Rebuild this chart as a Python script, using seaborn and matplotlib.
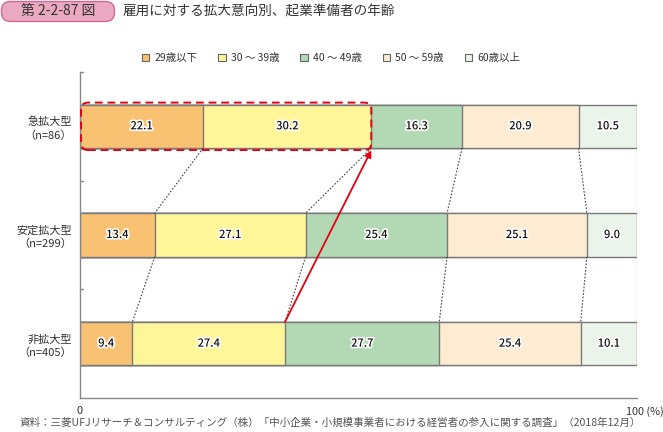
import numpy as np
import pandas as pd
import matplotlib
matplotlib.use("Agg")
import matplotlib.pyplot as plt
import matplotlib.patheffects as pe
from matplotlib.patches import Patch, FancyBboxPatch
from matplotlib.transforms import IdentityTransform
import seaborn as sns

categories = ["急拡大型\n（n=86）", "安定拡大型\n（n=299）", "非拡大型\n（n=405）"]
series_names = ["29歳以下", "30 ～ 39歳", "40 ～ 49歳", "50 ～ 59歳", "60歳以上"]
v_29 = [22.1, 13.4, 9.4]
v_30 = [30.2, 27.1, 27.4]
v_40 = [16.3, 25.4, 27.7]
v_50 = [20.9, 25.1, 25.4]
v_60 = [10.5, 9.0, 10.1]
colors = ["#F9C273", "#FFF69A", "#B2D9B4", "#FDEBD2", "#EAF4EA"]

title = "雇用に対する拡大意向別、起業準備者の年齢"
fig_label = "第 2-2-87 図"
source = "資料：三菱UFJリサーチ＆コンサルティング（株）「中小企業・小規模事業者における経営者の参入に関する調査」（2018年12月）"

sns.set_style("white")
plt.rcParams['font.family'] = ['Noto Sans CJK JP', 'DejaVu Sans']

vals = np.array([v_29, v_30, v_40, v_50, v_60])
cum = np.cumsum(vals, axis=0)
df = pd.DataFrame({"cat": categories})
for i, n in enumerate(series_names):
    df[n] = cum[i]

DPI = 100
fig = plt.figure(figsize=(6.63, 4.32), dpi=DPI)
ax = fig.add_axes([80/663, 34/432, 557/663, 326/432])

H = 0.4
for i in range(len(series_names) - 1, -1, -1):
    sns.barplot(data=df, y="cat", x=series_names[i], color=colors[i], orient="y",
                width=H, edgecolor="#7a7a7a", linewidth=1.0, ax=ax, saturation=1)

ax.set_xlim(0, 100)
ax.set_ylim(2.5, -0.5)
ax.set_xlabel("")
ax.set_ylabel("")
for s in ["top", "right"]:
    ax.spines[s].set_visible(False)
for s in ["left", "bottom"]:
    ax.spines[s].set_color("#888888")
    ax.spines[s].set_linewidth(1.0)

ax.set_xticks([0, 100])
ax.set_xticklabels(["0", ""], fontsize=8, color="#333333")
ax.tick_params(axis="x", direction="in", length=4, color="#888888", pad=6)
ax.set_yticks([0, 1, 2])
ax.set_yticklabels(categories, fontsize=8, color="#333333", ha="right", linespacing=1.3)
ax.tick_params(axis="y", length=0, pad=6)
for yb in [-0.5, 0.5, 1.5]:
    ax.plot([0, 0.6], [yb, yb], color="#888888", lw=1.0, clip_on=False)
ax.annotate("100 (%)", xy=(1, 0), xycoords="axes fraction", xytext=(-8, -6),
            textcoords="offset points", fontsize=7.8, color="#333333", va="top", ha="left")

# value labels
for r in range(3):
    for i in range(5):
        left = cum[i, r] - vals[i, r]
        ax.text(left + vals[i, r] / 2, r, f"{vals[i, r]:.1f}", ha="center", va="center",
                fontsize=8, color="#111111", fontweight="medium",
                path_effects=[pe.withStroke(linewidth=2.4, foreground="white")])

# dotted connectors
for r in range(2):
    for i in range(5):
        ax.plot([cum[i, r], cum[i, r + 1]], [r + H / 2, r + 1 - H / 2],
                ls=(0, (1.5, 1.5)), color="#444444", lw=0.8, zorder=1)

# red arrow
ax.annotate("", xy=(cum[1, 0], H / 2 + 0.02), xytext=(cum[1, 2], 2 - H / 2),
            arrowprops=dict(arrowstyle="-|>", color="#E60012", lw=1.3,
                            mutation_scale=10, shrinkA=0, shrinkB=0), zorder=5)

# red dashed rounded box
fig.canvas.draw()
p0 = ax.transData.transform((0, -H / 2))
p1 = ax.transData.transform((cum[1, 0], H / 2))
x0, x1 = p0[0] + 1, p1[0]
y0, y1 = min(p0[1], p1[1]) - 2, max(p0[1], p1[1]) + 2
box = FancyBboxPatch((x0, y0), x1 - x0, y1 - y0,
                     boxstyle="round,pad=0,rounding_size=7",
                     transform=IdentityTransform(), fill=False,
                     edgecolor="#E60012", lw=1.4, ls=(0, (4, 2.5)), zorder=6)
fig.patches.append(box)

# legend
handles = [Patch(facecolor=c, edgecolor="#666666", linewidth=0.8) for c in colors]
fig.legend(handles, series_names, loc="center", bbox_to_anchor=(331/663, 1 - 58/432),
           ncol=5, frameon=False, fontsize=7.5, handlelength=0.7, handleheight=0.7,
           handletextpad=0.5, columnspacing=2.0, labelcolor="#333333")

# header (pill in pixel coordinates)
W, Hf = 663, 432
hdr = FancyBboxPatch((1.5, Hf - 21.5), 113, 20,
                     boxstyle="round,pad=0,rounding_size=9",
                     transform=IdentityTransform(), facecolor="#EAA8C1",
                     edgecolor="#D06A93", lw=1.0)
fig.patches.append(hdr)
fig.text(58/663, 1 - 11.5/432, fig_label, ha="center", va="center", fontsize=10,
         color="#333333")
fig.text(123/663, 1 - 11.5/432, title, ha="left", va="center", fontsize=9.8, color="#333333")
fig.text(20/663, 1 - 423/432, source, ha="left", va="center", fontsize=7.6, color="#555555")

fig.savefig("out.png", dpi=DPI)
